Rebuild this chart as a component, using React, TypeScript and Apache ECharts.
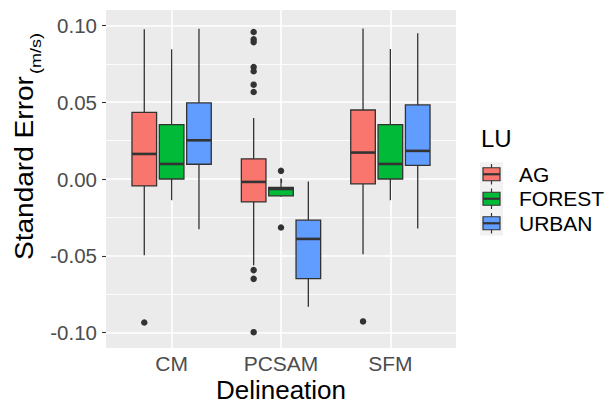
import React, { useEffect, useRef } from "react";
import * as echarts from "echarts";

const categories = ["CM", "PCSAM", "SFM"];
const groups = ["AG", "FOREST", "URBAN"];
const groupColors = ["#F8766D", "#00BA38", "#619CFF"];
const groupOffsets = [-0.25, 0, 0.25];

// [lower whisker, Q1, median, Q3, upper whisker] per category
const agStats = [
  [-0.0496, -0.0045, 0.0163, 0.0434, 0.0974],
  [-0.0561, -0.0149, -0.0019, 0.0131, 0.0397],
  [-0.0489, -0.0032, 0.0172, 0.0449, 0.098],
];
const forestStats = [
  [-0.0138, 0.0, 0.0098, 0.0354, 0.0844],
  [-0.0115, -0.011, -0.0065, -0.0055, 0.0003],
  [-0.0138, 0.0, 0.0098, 0.0354, 0.0846],
];
const urbanStats = [
  [-0.0327, 0.0096, 0.0252, 0.0495, 0.0978],
  [-0.0832, -0.0648, -0.039, -0.0268, -0.0017],
  [-0.0322, 0.0089, 0.0183, 0.0482, 0.0948],
];

const agOutliers = [
  [-0.0934],
  [0.0957, 0.0909, 0.0891, 0.0729, 0.0701, 0.0614, 0.0566, -0.0593, -0.065, -0.0997],
  [-0.0927],
];
const forestOutliers = [[], [0.0053, -0.0316], []];
const urbanOutliers = [[], [], []];

const yMajorTicks = [-0.1, -0.05, 0, 0.05, 0.1];
const yMinorTicks = [-0.075, -0.025, 0.025, 0.075];
const xTicks = [1, 2, 3];

const FONT = "Liberation Sans, Arial, sans-serif";
const BOX_W = 0.225;

export default function App() {
  const ref = useRef<HTMLDivElement>(null);
  useEffect(() => {
    if (!ref.current) return;
    const chart = echarts.init(ref.current, null, { renderer: "svg" });
    const allStats = [agStats, forestStats, urbanStats];
    const allOutliers = [agOutliers, forestOutliers, urbanOutliers];

    const series: any[] = [];
    groups.forEach((g, gi) => {
      const color = groupColors[gi];
      series.push({
        type: "custom",
        name: g,
        xAxisIndex: 0,
        yAxisIndex: 0,
        encode: { x: 0, y: [1, 2, 3, 4, 5] },
        data: allStats[gi].map((s, ci) => [ci + 1 + groupOffsets[gi], ...s]),
        renderItem: (params: any, api: any) => {
          const x = api.value(0);
          const low = api.coord([x, api.value(1)]);
          const q1 = api.coord([x, api.value(2)]);
          const med = api.coord([x, api.value(3)]);
          const q3 = api.coord([x, api.value(4)]);
          const high = api.coord([x, api.value(5)]);
          const hw = api.size([BOX_W, 0])[0] / 2;
          const cx = low[0];
          const ls = { stroke: "#333333", lineWidth: 1.3 };
          return {
            type: "group",
            children: [
              { type: "line", shape: { x1: cx, y1: high[1], x2: cx, y2: q3[1] }, style: ls },
              { type: "line", shape: { x1: cx, y1: q1[1], x2: cx, y2: low[1] }, style: ls },
              {
                type: "rect",
                shape: { x: cx - hw, y: q3[1], width: 2 * hw, height: q1[1] - q3[1] },
                style: { fill: color, stroke: "#333333", lineWidth: 1.3 },
              },
              {
                type: "line",
                shape: { x1: cx - hw, y1: med[1], x2: cx + hw, y2: med[1] },
                style: { stroke: "#333333", lineWidth: 2.6 },
              },
            ],
          };
        },
      });
      const pts: number[][] = [];
      allOutliers[gi].forEach((arr, ci) => {
        arr.forEach((v) => pts.push([ci + 1 + groupOffsets[gi], v]));
      });
      series.push({
        type: "scatter",
        name: g + " outliers",
        xAxisIndex: 0,
        yAxisIndex: 0,
        data: pts,
        symbol: "circle",
        symbolSize: 6.5,
        itemStyle: { color: "#333333", opacity: 1 },
        z: 3,
      });
    });

    const legendItems: any[] = [];
    const legendTop = 162;
    const cellH = 24.5;
    legendItems.push({
      type: "rect",
      shape: { x: 480, y: legendTop, width: 23, height: cellH * 3 },
      style: { fill: "#F2F2F2" },
      silent: true,
    });
    groups.forEach((g, gi) => {
      const cy = legendTop + cellH * gi + cellH / 2;
      legendItems.push({
        type: "line",
        shape: { x1: 491.5, y1: cy - cellH / 2 + 2, x2: 491.5, y2: cy + cellH / 2 - 2 },
        style: { stroke: "#333333", lineWidth: 1.2 },
      });
      legendItems.push({
        type: "rect",
        shape: { x: 483, y: cy - 6.5, width: 17, height: 13 },
        style: { fill: groupColors[gi], stroke: "#333333", lineWidth: 1.2 },
      });
      legendItems.push({
        type: "line",
        shape: { x1: 483, y1: cy, x2: 500, y2: cy },
        style: { stroke: "#333333", lineWidth: 2.2 },
      });
      legendItems.push({
        type: "text",
        x: 519,
        y: cy,
        style: {
          text: g,
          fontSize: 21,
          fontFamily: FONT,
          fill: "#000000",
          textAlign: "left",
          textVerticalAlign: "middle",
        },
      });
    });

    chart.setOption({
      animation: false,
      backgroundColor: "#FFFFFF",
      grid: {
        left: 106,
        top: 10,
        width: 350,
        height: 338,
        show: true,
        backgroundColor: "#EBEBEB",
        borderWidth: 0,
        containLabel: false,
      },
      xAxis: [
        {
          type: "value",
          min: 0.4,
          max: 3.6,
          axisLine: { show: false },
          axisTick: {
            show: true,
            customValues: xTicks,
            length: 4,
            lineStyle: { color: "#333333", width: 1.1 },
          },
          axisLabel: {
            customValues: xTicks,
            formatter: (v: number) => categories[Math.round(v) - 1] ?? "",
            fontSize: 21,
            color: "#4D4D4D",
            fontFamily: FONT,
            margin: 5,
          },
          splitLine: { show: true, lineStyle: { color: "#FFFFFF", width: 1.6 } },
        },
      ],
      yAxis: [
        {
          type: "value",
          min: -0.11,
          max: 0.11,
          axisLine: { show: false },
          axisTick: {
            show: true,
            customValues: yMajorTicks,
            length: 4,
            lineStyle: { color: "#333333", width: 1.1 },
          },
          axisLabel: {
            customValues: yMajorTicks,
            formatter: (v: number) => v.toFixed(2),
            fontSize: 20.5,
            color: "#4D4D4D",
            fontFamily: FONT,
            margin: 9,
          },
          splitLine: { show: true, lineStyle: { color: "#FFFFFF", width: 1.6 } },
        },
        {
          type: "value",
          min: -0.11,
          max: 0.11,
          position: "left",
          axisLine: { show: false },
          axisTick: { show: false, customValues: yMinorTicks },
          axisLabel: { show: false, customValues: yMinorTicks },
          splitLine: { show: true, lineStyle: { color: "#FFFFFF", width: 0.8 } },
        },
      ],
      graphic: [
        {
          type: "text",
          x: 281,
          y: 389.5,
          style: {
            text: "Delineation",
            fontSize: 26,
            fontFamily: FONT,
            fill: "#000000",
            textAlign: "center",
            textVerticalAlign: "middle",
          },
        },
        {
          type: "text",
          x: 24,
          y: 260,
          rotation: Math.PI / 2,
          scaleX: 1.1,
          style: {
            text: "Standard Error",
            fontSize: 25.5,
            fontFamily: FONT,
            fill: "#000000",
            textAlign: "left",
            textVerticalAlign: "middle",
          },
        },
        {
          type: "text",
          x: 36.5,
          y: 74,
          rotation: Math.PI / 2,
          scaleX: 1.2,
          style: {
            text: "(m/s)",
            fontSize: 15,
            fontFamily: FONT,
            fill: "#000000",
            textAlign: "left",
            textVerticalAlign: "middle",
          },
        },
        {
          type: "text",
          x: 481,
          y: 138,
          style: {
            text: "LU",
            fontSize: 24,
            fontFamily: FONT,
            fill: "#000000",
            textAlign: "left",
            textVerticalAlign: "middle",
          },
        },
        ...legendItems,
      ],
      series,
    });
    return () => chart.dispose();
  }, []);
  return (
    <div
      ref={ref}
      style={{ position: "absolute", left: 0, top: 0, width: 614, height: 404 }}
    />
  );
}
